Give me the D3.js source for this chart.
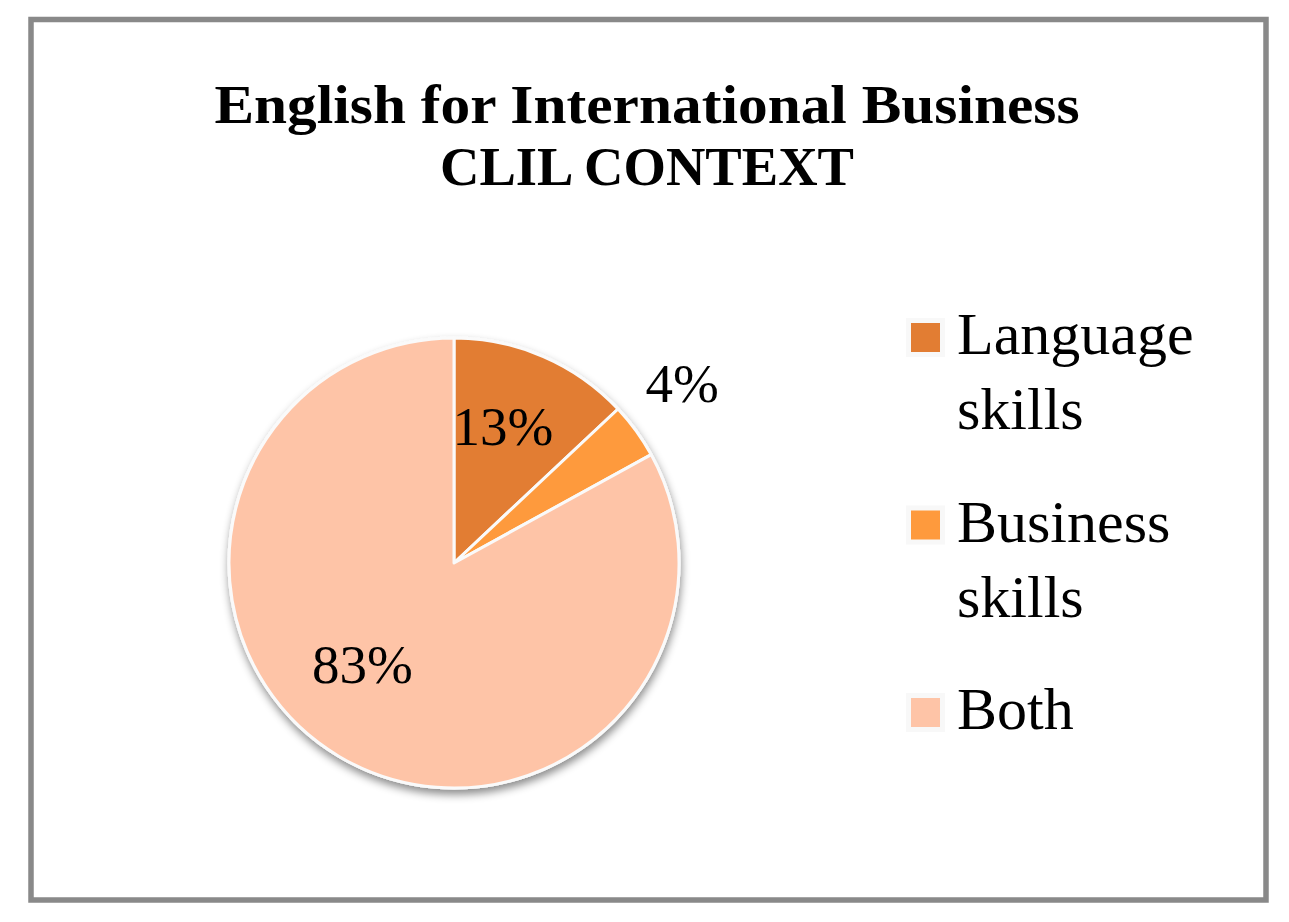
<!DOCTYPE html>
<html><head><meta charset="utf-8">
<script src="https://cdn.jsdelivr.net/npm/d3@7/dist/d3.min.js"></script>
<style>html,body{margin:0;padding:0;background:#fff;}</style>
</head><body>
<svg id="c" width="1289" height="922"></svg>
<script>
const titleLines = ["English for International Business", "CLIL CONTEXT"];
const categories = ["Language skills", "Business skills", "Both"];
const legendLines = [["Language", "skills"], ["Business", "skills"], ["Both"]];
const values = [13, 4, 83];
const labels = ["13%", "4%", "83%"];
const colors = ["#E27D33", "#FE9A3D", "#FEC4A7"];

const svg = d3.select("#c");
const FONT = "'Liberation Serif', 'Times New Roman', serif";

const defs = svg.append("defs");
const f = defs.append("filter").attr("id", "sh").attr("x", "-20%").attr("y", "-20%").attr("width", "140%").attr("height", "140%");
f.append("feDropShadow").attr("dx", 1).attr("dy", 5).attr("stdDeviation", 4).attr("flood-color", "#000").attr("flood-opacity", 0.45);

// border
svg.append("rect").attr("x", 31).attr("y", 19.5).attr("width", 1235).attr("height", 880.5)
  .attr("fill", "#fff").attr("stroke", "#898989").attr("stroke-width", 5.5);

// title
const titleTargets = [865, 414];
titleLines.forEach((t, i) => {
  svg.append("text").attr("x", 647).attr("y", 123 + i * 62)
    .attr("text-anchor", "middle").attr("font-family", FONT).attr("font-weight", "bold")
    .attr("font-size", 55).attr("fill", "#000")
    .attr("textLength", titleTargets[i]).attr("lengthAdjust", "spacingAndGlyphs")
    .text(t);
});

// pie
const cx = 454, cy = 563, R = 225;
const pie = d3.pie().sort(null).value(d => d);
const arcs = pie(values);
const arc = d3.arc().innerRadius(0).outerRadius(R);
const g = svg.append("g").attr("transform", `translate(${cx},${cy})`);
g.append("circle").attr("r", R + 1.5).attr("fill", "#f7f7f7").attr("filter", "url(#sh)");
g.selectAll("path.slice").data(arcs).enter().append("path").attr("class", "slice")
  .attr("d", arc).attr("fill", (d, i) => colors[i])
  .attr("stroke", "#fafafa").attr("stroke-width", 3).attr("stroke-linejoin", "round");

// labels: inside for large slices, outside for small
const labelLayout = [
  {r: 145, shift: -3.7},
  {r: 290, shift: -2.1},
  {r: 137, shift: 11.4}
];
arcs.forEach((d, i) => {
  const mid = (d.startAngle + d.endAngle) / 2 + labelLayout[i].shift * Math.PI / 180;
  const x = Math.sin(mid) * labelLayout[i].r;
  const y = -Math.cos(mid) * labelLayout[i].r;
  g.append("text").attr("x", x).attr("y", y).attr("dy", "0.33em")
    .attr("text-anchor", "middle").attr("font-family", FONT).attr("font-size", 55)
    .attr("fill", "#000").text(labels[i]);
});

// legend
const legY = d3.scalePoint().domain(categories).range([337, 712]);
const lg = svg.append("g");
categories.forEach((c, i) => {
  const y = legY(c);
  lg.append("rect").attr("x", 906).attr("y", y - 19).attr("width", 39).attr("height", 39).attr("fill", "#f8f8f8");
  lg.append("rect").attr("x", 911).attr("y", y - 14).attr("width", 29).attr("height", 29).attr("fill", colors[i]);
  legendLines[i].forEach((ln, j) => {
    lg.append("text").attr("x", 957).attr("y", y + 17 + j * 75)
      .attr("font-family", FONT).attr("font-size", 60).attr("fill", "#000").text(ln);
  });
});
</script>
</body></html>
